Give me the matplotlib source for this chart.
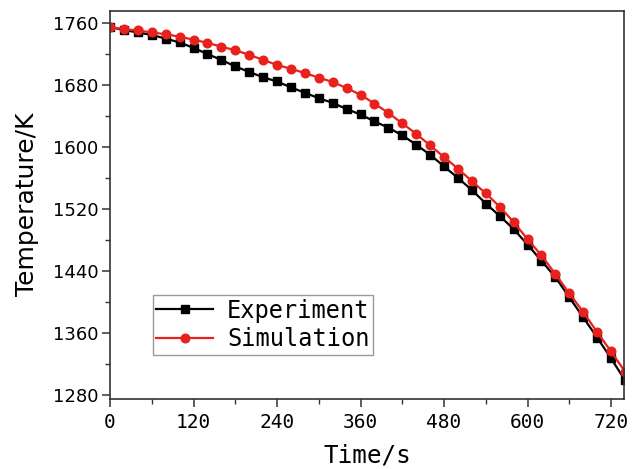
import numpy as np
import matplotlib
matplotlib.use('Agg')
from matplotlib import pyplot as plt
from matplotlib.ticker import MultipleLocator

# 时间 (s), 每 20 s 一个点
time_s = np.arange(0, 741, 20)

experiment = [1755, 1751, 1748, 1744.6, 1740, 1735, 1728, 1720, 1712.5, 1704,
              1697, 1690, 1684.6, 1677, 1670, 1663, 1657, 1649, 1642, 1633,
              1625, 1615, 1603, 1590, 1575, 1560, 1544.5, 1527, 1511, 1494,
              1474, 1453, 1432, 1406, 1380, 1354, 1327, 1299]

simulation = [1755, 1752, 1750.5, 1748, 1745.5, 1742.5, 1738.5, 1734.5, 1729.5, 1725,
              1719, 1712.5, 1706, 1701, 1695.5, 1689.5, 1684, 1676, 1667.5, 1656,
              1644, 1630.5, 1617, 1602, 1587, 1572, 1556, 1540, 1523, 1503,
              1481, 1460, 1436, 1411, 1387, 1361, 1336, 1310]

x_ticks = [0, 120, 240, 360, 480, 600, 720]
y_ticks = [1280, 1360, 1440, 1520, 1600, 1680, 1760]

mono = 'DejaVu Sans Mono'

fig = plt.figure(figsize=(6.37, 4.69), dpi=100)
ax = fig.add_axes([0.1727, 0.1499, 0.8073, 0.8273])

ax.plot(time_s, experiment, '-s', color='black', lw=1.6, ms=5.6, label='Experiment')
ax.plot(time_s, simulation, '-o', color='#e8211d', lw=1.6, ms=6.2, label='Simulation')

ax.set_xlim(0, 739)
ax.set_ylim(1275, 1776)
ax.set_xticks(x_ticks)
ax.set_yticks(y_ticks)
ax.xaxis.set_minor_locator(MultipleLocator(60))
ax.yaxis.set_minor_locator(MultipleLocator(40))

for s in ax.spines.values():
    s.set_color('#333333')
    s.set_linewidth(1.2)

ax.tick_params(which='major', direction='out', length=5.5, width=1.1, color='#333333')
ax.tick_params(which='minor', direction='out', length=3.5, width=1.0, color='#333333')
ax.tick_params(axis='y', labelsize=13, pad=3)
ax.tick_params(axis='x', labelsize=14, pad=5)
for lab in ax.get_xticklabels():
    lab.set_family(mono)

ax.set_xlabel('Time/s', family=mono, fontsize=17.5, labelpad=8)
ax.set_ylabel('Temperature/K', fontsize=18, labelpad=10)

leg = ax.legend(loc='lower left', bbox_to_anchor=(0.083, 0.113), borderaxespad=0,
                prop={'family': mono, 'size': 17}, fancybox=False, framealpha=1,
                edgecolor='#999999', handlelength=2.4, handletextpad=0.6,
                borderpad=0.15, labelspacing=0.2)
leg.get_frame().set_linewidth(1.0)

fig.savefig('out.png', dpi=100, facecolor='white')
